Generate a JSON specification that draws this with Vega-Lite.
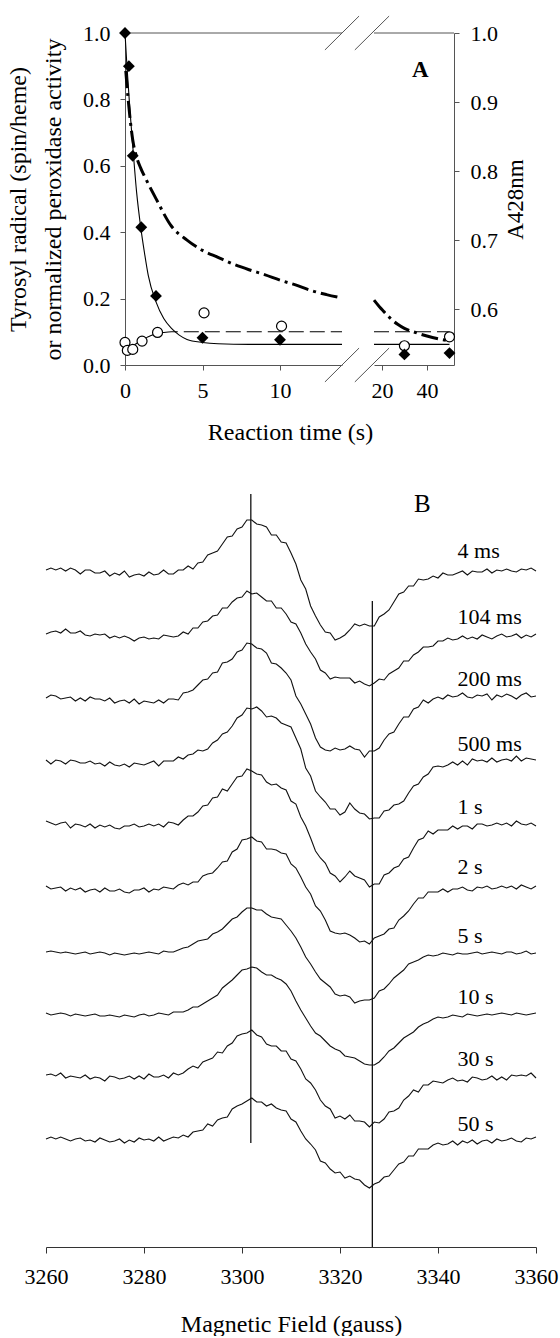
{
"$schema":"https://vega.github.io/schema/vega-lite/v6.json",
"background":"white",
"padding":{"left":6,"top":15,"right":5,"bottom":0},
"config":{"font":"Liberation Serif","view":{"stroke":null},
"axis":{"labelFont":"Liberation Serif","titleFont":"Liberation Serif","labelFontSize":22,"titleFontSize":24,"labelColor":"black","titleColor":"black","titleFontWeight":"normal","domainColor":"#555","tickColor":"#555","grid":false,"tickSize":5,"labelFlush":false,"labelOverlap":false,"labelBound":false},
"text":{"font":"Liberation Serif","color":"black"}},
"datasets":{
"diam":[{"t":0,"v":1.0},{"t":0.25,"v":0.9},{"t":0.5,"v":0.63},{"t":1.05,"v":0.415},{"t":2,"v":0.208},{"t":5,"v":0.082},{"t":10,"v":0.076},{"t":30,"v":0.032},{"t":50,"v":0.036}],
"circ":[{"t":0,"v":0.068},{"t":0.15,"v":0.044},{"t":0.5,"v":0.047},{"t":1.1,"v":0.072},{"t":2.1,"v":0.098},{"t":5.1,"v":0.157},{"t":10.1,"v":0.117},{"t":30,"v":0.058},{"t":50,"v":0.085}],
"fitS":[{"t":0,"v":1.0},{"t":0.1,"v":0.92},{"t":0.2,"v":0.85},{"t":0.3,"v":0.78},{"t":0.5,"v":0.66},{"t":0.75,"v":0.52},{"t":1,"v":0.42},{"t":1.25,"v":0.34},{"t":1.5,"v":0.27},{"t":2,"v":0.19},{"t":2.5,"v":0.14},{"t":3,"v":0.11},{"t":3.5,"v":0.09},{"t":4,"v":0.077},{"t":5,"v":0.068},{"t":6,"v":0.064},{"t":8,"v":0.062},{"t":14,"v":0.062},{"t":16.5,"v":0.062},{"t":50,"v":0.062}],
"fitD":[{"t":0,"v":0.045},{"t":0.5,"v":0.058},{"t":1,"v":0.072},{"t":1.5,"v":0.085},{"t":2,"v":0.094},{"t":2.5,"v":0.098},{"t":3,"v":0.1},{"t":14,"v":0.1},{"t":16.5,"v":0.1},{"t":50,"v":0.1}],
"a428":[{"t":0.05,"r":0.945},{"t":0.2,"r":0.905},{"t":0.5,"r":0.845},{"t":0.75,"r":0.82},{"t":1,"r":0.805},{"t":1.4,"r":0.786},{"t":2,"r":0.76},{"t":3,"r":0.72},{"t":4,"r":0.7},{"t":5,"r":0.685},{"t":6,"r":0.675},{"t":7,"r":0.665},{"t":8,"r":0.657},{"t":9,"r":0.65},{"t":10,"r":0.642},{"t":11,"r":0.635},{"t":12,"r":0.627},{"t":13,"r":0.621},{"t":14,"r":0.616},{"t":16.5,"r":0.613},{"t":19,"r":0.603},{"t":21,"r":0.596},{"t":23,"r":0.589},{"t":25,"r":0.583},{"t":27,"r":0.578},{"t":30,"r":0.572},{"t":35,"r":0.566},{"t":40,"r":0.561},{"t":45,"r":0.557},{"t":50,"r":0.554}],
"labels":[{"lab":"4 ms","f":3344,"v":20},{"lab":"104 ms","f":3344,"v":-46},{"lab":"200 ms","f":3344,"v":-108},{"lab":"500 ms","f":3344,"v":-173},{"lab":"1 s","f":3344,"v":-236},{"lab":"2 s","f":3344,"v":-296},{"lab":"5 s","f":3344,"v":-365},{"lab":"10 s","f":3344,"v":-426},{"lab":"30 s","f":3344,"v":-488},{"lab":"50 s","f":3344,"v":-553}],
"spectra":[
{"s":"4 ms","f":3260,"v":1},{"s":"4 ms","f":3261,"v":3},{"s":"4 ms","f":3262,"v":1},{"s":"4 ms","f":3263,"v":3},{"s":"4 ms","f":3264,"v":0},{"s":"4 ms","f":3265,"v":3},{"s":"4 ms","f":3266,"v":1},{"s":"4 ms","f":3267,"v":-3},{"s":"4 ms","f":3268,"v":1},{"s":"4 ms","f":3269,"v":1},{"s":"4 ms","f":3270,"v":-2},
{"s":"4 ms","f":3271,"v":-2},{"s":"4 ms","f":3272,"v":0},{"s":"4 ms","f":3273,"v":-5},{"s":"4 ms","f":3274,"v":-2},{"s":"4 ms","f":3275,"v":-4},{"s":"4 ms","f":3276,"v":0},{"s":"4 ms","f":3277,"v":-6},{"s":"4 ms","f":3278,"v":-4},{"s":"4 ms","f":3279,"v":-3},{"s":"4 ms","f":3280,"v":-5},{"s":"4 ms","f":3281,"v":-1},{"s":"4 ms","f":3282,"v":-4},{"s":"4 ms","f":3283,"v":-3},{"s":"4 ms","f":3284,"v":1},{"s":"4 ms","f":3285,"v":-3},{"s":"4 ms","f":3286,"v":-3},{"s":"4 ms","f":3287,"v":1},
{"s":"4 ms","f":3288,"v":1},{"s":"4 ms","f":3289,"v":5},{"s":"4 ms","f":3290,"v":2},{"s":"4 ms","f":3291,"v":8},{"s":"4 ms","f":3292,"v":9},{"s":"4 ms","f":3293,"v":16},{"s":"4 ms","f":3294,"v":18},{"s":"4 ms","f":3295,"v":20},{"s":"4 ms","f":3296,"v":27},{"s":"4 ms","f":3297,"v":34},{"s":"4 ms","f":3298,"v":35},{"s":"4 ms","f":3299,"v":42},{"s":"4 ms","f":3300,"v":44},{"s":"4 ms","f":3301,"v":51},{"s":"4 ms","f":3302,"v":51},{"s":"4 ms","f":3303,"v":47},{"s":"4 ms","f":3304,"v":46},{"s":"4 ms","f":3305,"v":44},{"s":"4 ms","f":3306,"v":36},{"s":"4 ms","f":3307,"v":36},
{"s":"4 ms","f":3308,"v":29},{"s":"4 ms","f":3309,"v":28},{"s":"4 ms","f":3310,"v":18},{"s":"4 ms","f":3311,"v":7},{"s":"4 ms","f":3312,"v":-9},{"s":"4 ms","f":3313,"v":-18},{"s":"4 ms","f":3314,"v":-35},{"s":"4 ms","f":3315,"v":-45},{"s":"4 ms","f":3316,"v":-54},{"s":"4 ms","f":3317,"v":-61},{"s":"4 ms","f":3318,"v":-62},{"s":"4 ms","f":3319,"v":-69},{"s":"4 ms","f":3320,"v":-67},{"s":"4 ms","f":3321,"v":-64},{"s":"4 ms","f":3322,"v":-59},{"s":"4 ms","f":3323,"v":-53},{"s":"4 ms","f":3324,"v":-55},{"s":"4 ms","f":3325,"v":-53},{"s":"4 ms","f":3326,"v":-55},{"s":"4 ms","f":3327,"v":-55},
{"s":"4 ms","f":3328,"v":-46},{"s":"4 ms","f":3329,"v":-43},{"s":"4 ms","f":3330,"v":-39},{"s":"4 ms","f":3331,"v":-31},{"s":"4 ms","f":3332,"v":-23},{"s":"4 ms","f":3333,"v":-21},{"s":"4 ms","f":3334,"v":-15},{"s":"4 ms","f":3335,"v":-15},{"s":"4 ms","f":3336,"v":-8},{"s":"4 ms","f":3337,"v":-9},{"s":"4 ms","f":3338,"v":-8},{"s":"4 ms","f":3339,"v":-5},{"s":"4 ms","f":3340,"v":-7},{"s":"4 ms","f":3341,"v":-2},{"s":"4 ms","f":3342,"v":-4},{"s":"4 ms","f":3343,"v":-4},{"s":"4 ms","f":3344,"v":-2},{"s":"4 ms","f":3345,"v":0},
{"s":"4 ms","f":3346,"v":-4},{"s":"4 ms","f":3347,"v":0},{"s":"4 ms","f":3348,"v":-1},{"s":"4 ms","f":3349,"v":-1},{"s":"4 ms","f":3350,"v":2},{"s":"4 ms","f":3351,"v":-2},{"s":"4 ms","f":3352,"v":1},{"s":"4 ms","f":3353,"v":0},{"s":"4 ms","f":3354,"v":2},{"s":"4 ms","f":3355,"v":0},{"s":"4 ms","f":3356,"v":-1},{"s":"4 ms","f":3357,"v":2},{"s":"4 ms","f":3358,"v":1},{"s":"4 ms","f":3359,"v":3},{"s":"4 ms","f":3360,"v":0},
{"s":"104 ms","f":3260,"v":-63},{"s":"104 ms","f":3261,"v":-61},{"s":"104 ms","f":3262,"v":-60},{"s":"104 ms","f":3263,"v":-62},{"s":"104 ms","f":3264,"v":-58},{"s":"104 ms","f":3265,"v":-62},{"s":"104 ms","f":3266,"v":-62},{"s":"104 ms","f":3267,"v":-60},{"s":"104 ms","f":3268,"v":-64},{"s":"104 ms","f":3269,"v":-65},{"s":"104 ms","f":3270,"v":-63},
{"s":"104 ms","f":3271,"v":-64},{"s":"104 ms","f":3272,"v":-63},{"s":"104 ms","f":3273,"v":-67},{"s":"104 ms","f":3274,"v":-65},{"s":"104 ms","f":3275,"v":-67},{"s":"104 ms","f":3276,"v":-65},{"s":"104 ms","f":3277,"v":-67},{"s":"104 ms","f":3278,"v":-70},{"s":"104 ms","f":3279,"v":-67},{"s":"104 ms","f":3280,"v":-66},{"s":"104 ms","f":3281,"v":-68},{"s":"104 ms","f":3282,"v":-67},{"s":"104 ms","f":3283,"v":-68},{"s":"104 ms","f":3284,"v":-64},{"s":"104 ms","f":3285,"v":-65},{"s":"104 ms","f":3286,"v":-66},{"s":"104 ms","f":3287,"v":-65},
{"s":"104 ms","f":3288,"v":-61},{"s":"104 ms","f":3289,"v":-63},{"s":"104 ms","f":3290,"v":-57},{"s":"104 ms","f":3291,"v":-57},{"s":"104 ms","f":3292,"v":-51},{"s":"104 ms","f":3293,"v":-50},{"s":"104 ms","f":3294,"v":-45},{"s":"104 ms","f":3295,"v":-44},{"s":"104 ms","f":3296,"v":-37},{"s":"104 ms","f":3297,"v":-37},{"s":"104 ms","f":3298,"v":-31},{"s":"104 ms","f":3299,"v":-27},{"s":"104 ms","f":3300,"v":-26},{"s":"104 ms","f":3301,"v":-20},{"s":"104 ms","f":3302,"v":-23},{"s":"104 ms","f":3303,"v":-22},{"s":"104 ms","f":3304,"v":-26},{"s":"104 ms","f":3305,"v":-30},{"s":"104 ms","f":3306,"v":-30},{"s":"104 ms","f":3307,"v":-37},
{"s":"104 ms","f":3308,"v":-37},{"s":"104 ms","f":3309,"v":-43},{"s":"104 ms","f":3310,"v":-51},{"s":"104 ms","f":3311,"v":-53},{"s":"104 ms","f":3312,"v":-62},{"s":"104 ms","f":3313,"v":-73},{"s":"104 ms","f":3314,"v":-81},{"s":"104 ms","f":3315,"v":-88},{"s":"104 ms","f":3316,"v":-99},{"s":"104 ms","f":3317,"v":-102},{"s":"104 ms","f":3318,"v":-108},{"s":"104 ms","f":3319,"v":-106},{"s":"104 ms","f":3320,"v":-107},{"s":"104 ms","f":3321,"v":-107},{"s":"104 ms","f":3322,"v":-107},{"s":"104 ms","f":3323,"v":-112},{"s":"104 ms","f":3324,"v":-110},{"s":"104 ms","f":3325,"v":-113},{"s":"104 ms","f":3326,"v":-115},{"s":"104 ms","f":3327,"v":-112},
{"s":"104 ms","f":3328,"v":-108},{"s":"104 ms","f":3329,"v":-109},{"s":"104 ms","f":3330,"v":-103},{"s":"104 ms","f":3331,"v":-100},{"s":"104 ms","f":3332,"v":-97},{"s":"104 ms","f":3333,"v":-90},{"s":"104 ms","f":3334,"v":-90},{"s":"104 ms","f":3335,"v":-84},{"s":"104 ms","f":3336,"v":-81},{"s":"104 ms","f":3337,"v":-76},{"s":"104 ms","f":3338,"v":-76},{"s":"104 ms","f":3339,"v":-75},{"s":"104 ms","f":3340,"v":-70},{"s":"104 ms","f":3341,"v":-70},{"s":"104 ms","f":3342,"v":-67},{"s":"104 ms","f":3343,"v":-69},{"s":"104 ms","f":3344,"v":-68},{"s":"104 ms","f":3345,"v":-65},
{"s":"104 ms","f":3346,"v":-68},{"s":"104 ms","f":3347,"v":-66},{"s":"104 ms","f":3348,"v":-68},{"s":"104 ms","f":3349,"v":-64},{"s":"104 ms","f":3350,"v":-66},{"s":"104 ms","f":3351,"v":-68},{"s":"104 ms","f":3352,"v":-65},{"s":"104 ms","f":3353,"v":-63},{"s":"104 ms","f":3354,"v":-66},{"s":"104 ms","f":3355,"v":-65},{"s":"104 ms","f":3356,"v":-63},{"s":"104 ms","f":3357,"v":-67},{"s":"104 ms","f":3358,"v":-64},{"s":"104 ms","f":3359,"v":-66},{"s":"104 ms","f":3360,"v":-63},
{"s":"200 ms","f":3260,"v":-127},{"s":"200 ms","f":3261,"v":-124},{"s":"200 ms","f":3262,"v":-125},{"s":"200 ms","f":3263,"v":-128},{"s":"200 ms","f":3264,"v":-127},{"s":"200 ms","f":3265,"v":-126},{"s":"200 ms","f":3266,"v":-130},{"s":"200 ms","f":3267,"v":-127},{"s":"200 ms","f":3268,"v":-130},{"s":"200 ms","f":3269,"v":-126},{"s":"200 ms","f":3270,"v":-128},
{"s":"200 ms","f":3271,"v":-128},{"s":"200 ms","f":3272,"v":-130},{"s":"200 ms","f":3273,"v":-127},{"s":"200 ms","f":3274,"v":-132},{"s":"200 ms","f":3275,"v":-130},{"s":"200 ms","f":3276,"v":-129},{"s":"200 ms","f":3277,"v":-132},{"s":"200 ms","f":3278,"v":-128},{"s":"200 ms","f":3279,"v":-133},{"s":"200 ms","f":3280,"v":-130},{"s":"200 ms","f":3281,"v":-131},{"s":"200 ms","f":3282,"v":-132},{"s":"200 ms","f":3283,"v":-129},{"s":"200 ms","f":3284,"v":-132},{"s":"200 ms","f":3285,"v":-128},{"s":"200 ms","f":3286,"v":-128},{"s":"200 ms","f":3287,"v":-129},
{"s":"200 ms","f":3288,"v":-122},{"s":"200 ms","f":3289,"v":-121},{"s":"200 ms","f":3290,"v":-119},{"s":"200 ms","f":3291,"v":-114},{"s":"200 ms","f":3292,"v":-109},{"s":"200 ms","f":3293,"v":-108},{"s":"200 ms","f":3294,"v":-102},{"s":"200 ms","f":3295,"v":-101},{"s":"200 ms","f":3296,"v":-92},{"s":"200 ms","f":3297,"v":-91},{"s":"200 ms","f":3298,"v":-88},{"s":"200 ms","f":3299,"v":-81},{"s":"200 ms","f":3300,"v":-79},{"s":"200 ms","f":3301,"v":-72},{"s":"200 ms","f":3302,"v":-73},{"s":"200 ms","f":3303,"v":-77},{"s":"200 ms","f":3304,"v":-78},{"s":"200 ms","f":3305,"v":-82},{"s":"200 ms","f":3306,"v":-92},{"s":"200 ms","f":3307,"v":-93},
{"s":"200 ms","f":3308,"v":-97},{"s":"200 ms","f":3309,"v":-102},{"s":"200 ms","f":3310,"v":-109},{"s":"200 ms","f":3311,"v":-125},{"s":"200 ms","f":3312,"v":-133},{"s":"200 ms","f":3313,"v":-143},{"s":"200 ms","f":3314,"v":-153},{"s":"200 ms","f":3315,"v":-167},{"s":"200 ms","f":3316,"v":-176},{"s":"200 ms","f":3317,"v":-179},{"s":"200 ms","f":3318,"v":-180},{"s":"200 ms","f":3319,"v":-177},{"s":"200 ms","f":3320,"v":-179},{"s":"200 ms","f":3321,"v":-178},{"s":"200 ms","f":3322,"v":-175},{"s":"200 ms","f":3323,"v":-178},{"s":"200 ms","f":3324,"v":-179},{"s":"200 ms","f":3325,"v":-186},{"s":"200 ms","f":3326,"v":-180},{"s":"200 ms","f":3327,"v":-180},
{"s":"200 ms","f":3328,"v":-177},{"s":"200 ms","f":3329,"v":-169},{"s":"200 ms","f":3330,"v":-163},{"s":"200 ms","f":3331,"v":-161},{"s":"200 ms","f":3332,"v":-153},{"s":"200 ms","f":3333,"v":-146},{"s":"200 ms","f":3334,"v":-146},{"s":"200 ms","f":3335,"v":-138},{"s":"200 ms","f":3336,"v":-136},{"s":"200 ms","f":3337,"v":-129},{"s":"200 ms","f":3338,"v":-132},{"s":"200 ms","f":3339,"v":-128},{"s":"200 ms","f":3340,"v":-126},{"s":"200 ms","f":3341,"v":-128},{"s":"200 ms","f":3342,"v":-124},{"s":"200 ms","f":3343,"v":-126},{"s":"200 ms","f":3344,"v":-125},{"s":"200 ms","f":3345,"v":-122},
{"s":"200 ms","f":3346,"v":-126},{"s":"200 ms","f":3347,"v":-127},{"s":"200 ms","f":3348,"v":-124},{"s":"200 ms","f":3349,"v":-125},{"s":"200 ms","f":3350,"v":-123},{"s":"200 ms","f":3351,"v":-129},{"s":"200 ms","f":3352,"v":-124},{"s":"200 ms","f":3353,"v":-126},{"s":"200 ms","f":3354,"v":-123},{"s":"200 ms","f":3355,"v":-125},{"s":"200 ms","f":3356,"v":-128},{"s":"200 ms","f":3357,"v":-124},{"s":"200 ms","f":3358,"v":-122},{"s":"200 ms","f":3359,"v":-126},{"s":"200 ms","f":3360,"v":-125},
{"s":"500 ms","f":3260,"v":-189},{"s":"500 ms","f":3261,"v":-193},{"s":"500 ms","f":3262,"v":-189},{"s":"500 ms","f":3263,"v":-190},{"s":"500 ms","f":3264,"v":-193},{"s":"500 ms","f":3265,"v":-189},{"s":"500 ms","f":3266,"v":-190},{"s":"500 ms","f":3267,"v":-192},{"s":"500 ms","f":3268,"v":-192},{"s":"500 ms","f":3269,"v":-190},{"s":"500 ms","f":3270,"v":-193},
{"s":"500 ms","f":3271,"v":-192},{"s":"500 ms","f":3272,"v":-195},{"s":"500 ms","f":3273,"v":-191},{"s":"500 ms","f":3274,"v":-194},{"s":"500 ms","f":3275,"v":-195},{"s":"500 ms","f":3276,"v":-193},{"s":"500 ms","f":3277,"v":-196},{"s":"500 ms","f":3278,"v":-192},{"s":"500 ms","f":3279,"v":-193},{"s":"500 ms","f":3280,"v":-194},{"s":"500 ms","f":3281,"v":-192},{"s":"500 ms","f":3282,"v":-190},{"s":"500 ms","f":3283,"v":-195},{"s":"500 ms","f":3284,"v":-190},{"s":"500 ms","f":3285,"v":-190},{"s":"500 ms","f":3286,"v":-190},{"s":"500 ms","f":3287,"v":-186},
{"s":"500 ms","f":3288,"v":-188},{"s":"500 ms","f":3289,"v":-184},{"s":"500 ms","f":3290,"v":-183},{"s":"500 ms","f":3291,"v":-179},{"s":"500 ms","f":3292,"v":-180},{"s":"500 ms","f":3293,"v":-178},{"s":"500 ms","f":3294,"v":-172},{"s":"500 ms","f":3295,"v":-169},{"s":"500 ms","f":3296,"v":-163},{"s":"500 ms","f":3297,"v":-161},{"s":"500 ms","f":3298,"v":-155},{"s":"500 ms","f":3299,"v":-147},{"s":"500 ms","f":3300,"v":-144},{"s":"500 ms","f":3301,"v":-137},{"s":"500 ms","f":3302,"v":-138},{"s":"500 ms","f":3303,"v":-136},{"s":"500 ms","f":3304,"v":-140},{"s":"500 ms","f":3305,"v":-146},{"s":"500 ms","f":3306,"v":-145},{"s":"500 ms","f":3307,"v":-147},
{"s":"500 ms","f":3308,"v":-152},{"s":"500 ms","f":3309,"v":-154},{"s":"500 ms","f":3310,"v":-156},{"s":"500 ms","f":3311,"v":-167},{"s":"500 ms","f":3312,"v":-178},{"s":"500 ms","f":3313,"v":-197},{"s":"500 ms","f":3314,"v":-205},{"s":"500 ms","f":3315,"v":-220},{"s":"500 ms","f":3316,"v":-226},{"s":"500 ms","f":3317,"v":-231},{"s":"500 ms","f":3318,"v":-238},{"s":"500 ms","f":3319,"v":-238},{"s":"500 ms","f":3320,"v":-244},{"s":"500 ms","f":3321,"v":-241},{"s":"500 ms","f":3322,"v":-232},{"s":"500 ms","f":3323,"v":-238},{"s":"500 ms","f":3324,"v":-242},{"s":"500 ms","f":3325,"v":-243},{"s":"500 ms","f":3326,"v":-248},{"s":"500 ms","f":3327,"v":-247},
{"s":"500 ms","f":3328,"v":-247},{"s":"500 ms","f":3329,"v":-240},{"s":"500 ms","f":3330,"v":-239},{"s":"500 ms","f":3331,"v":-234},{"s":"500 ms","f":3332,"v":-233},{"s":"500 ms","f":3333,"v":-230},{"s":"500 ms","f":3334,"v":-222},{"s":"500 ms","f":3335,"v":-215},{"s":"500 ms","f":3336,"v":-213},{"s":"500 ms","f":3337,"v":-206},{"s":"500 ms","f":3338,"v":-203},{"s":"500 ms","f":3339,"v":-196},{"s":"500 ms","f":3340,"v":-195},{"s":"500 ms","f":3341,"v":-196},{"s":"500 ms","f":3342,"v":-194},{"s":"500 ms","f":3343,"v":-191},{"s":"500 ms","f":3344,"v":-194},{"s":"500 ms","f":3345,"v":-190},
{"s":"500 ms","f":3346,"v":-194},{"s":"500 ms","f":3347,"v":-188},{"s":"500 ms","f":3348,"v":-190},{"s":"500 ms","f":3349,"v":-189},{"s":"500 ms","f":3350,"v":-191},{"s":"500 ms","f":3351,"v":-187},{"s":"500 ms","f":3352,"v":-191},{"s":"500 ms","f":3353,"v":-189},{"s":"500 ms","f":3354,"v":-188},{"s":"500 ms","f":3355,"v":-190},{"s":"500 ms","f":3356,"v":-185},{"s":"500 ms","f":3357,"v":-190},{"s":"500 ms","f":3358,"v":-187},{"s":"500 ms","f":3359,"v":-188},{"s":"500 ms","f":3360,"v":-189},
{"s":"1 s","f":3260,"v":-250},{"s":"1 s","f":3261,"v":-252},{"s":"1 s","f":3262,"v":-254},{"s":"1 s","f":3263,"v":-252},{"s":"1 s","f":3264,"v":-251},{"s":"1 s","f":3265,"v":-257},{"s":"1 s","f":3266,"v":-253},{"s":"1 s","f":3267,"v":-254},{"s":"1 s","f":3268,"v":-256},{"s":"1 s","f":3269,"v":-253},{"s":"1 s","f":3270,"v":-257},
{"s":"1 s","f":3271,"v":-254},{"s":"1 s","f":3272,"v":-256},{"s":"1 s","f":3273,"v":-254},{"s":"1 s","f":3274,"v":-257},{"s":"1 s","f":3275,"v":-258},{"s":"1 s","f":3276,"v":-255},{"s":"1 s","f":3277,"v":-255},{"s":"1 s","f":3278,"v":-253},{"s":"1 s","f":3279,"v":-256},{"s":"1 s","f":3280,"v":-255},{"s":"1 s","f":3281,"v":-253},{"s":"1 s","f":3282,"v":-255},{"s":"1 s","f":3283,"v":-253},{"s":"1 s","f":3284,"v":-256},{"s":"1 s","f":3285,"v":-251},{"s":"1 s","f":3286,"v":-252},{"s":"1 s","f":3287,"v":-254},
{"s":"1 s","f":3288,"v":-249},{"s":"1 s","f":3289,"v":-245},{"s":"1 s","f":3290,"v":-245},{"s":"1 s","f":3291,"v":-241},{"s":"1 s","f":3292,"v":-235},{"s":"1 s","f":3293,"v":-234},{"s":"1 s","f":3294,"v":-227},{"s":"1 s","f":3295,"v":-226},{"s":"1 s","f":3296,"v":-218},{"s":"1 s","f":3297,"v":-220},{"s":"1 s","f":3298,"v":-213},{"s":"1 s","f":3299,"v":-206},{"s":"1 s","f":3300,"v":-205},{"s":"1 s","f":3301,"v":-198},{"s":"1 s","f":3302,"v":-200},{"s":"1 s","f":3303,"v":-203},{"s":"1 s","f":3304,"v":-204},{"s":"1 s","f":3305,"v":-211},{"s":"1 s","f":3306,"v":-214},{"s":"1 s","f":3307,"v":-213},
{"s":"1 s","f":3308,"v":-217},{"s":"1 s","f":3309,"v":-219},{"s":"1 s","f":3310,"v":-230},{"s":"1 s","f":3311,"v":-233},{"s":"1 s","f":3312,"v":-246},{"s":"1 s","f":3313,"v":-255},{"s":"1 s","f":3314,"v":-267},{"s":"1 s","f":3315,"v":-280},{"s":"1 s","f":3316,"v":-287},{"s":"1 s","f":3317,"v":-292},{"s":"1 s","f":3318,"v":-302},{"s":"1 s","f":3319,"v":-305},{"s":"1 s","f":3320,"v":-311},{"s":"1 s","f":3321,"v":-306},{"s":"1 s","f":3322,"v":-300},{"s":"1 s","f":3323,"v":-305},{"s":"1 s","f":3324,"v":-307},{"s":"1 s","f":3325,"v":-309},{"s":"1 s","f":3326,"v":-316},{"s":"1 s","f":3327,"v":-313},
{"s":"1 s","f":3328,"v":-313},{"s":"1 s","f":3329,"v":-304},{"s":"1 s","f":3330,"v":-302},{"s":"1 s","f":3331,"v":-297},{"s":"1 s","f":3332,"v":-295},{"s":"1 s","f":3333,"v":-288},{"s":"1 s","f":3334,"v":-286},{"s":"1 s","f":3335,"v":-277},{"s":"1 s","f":3336,"v":-269},{"s":"1 s","f":3337,"v":-267},{"s":"1 s","f":3338,"v":-260},{"s":"1 s","f":3339,"v":-263},{"s":"1 s","f":3340,"v":-259},{"s":"1 s","f":3341,"v":-259},{"s":"1 s","f":3342,"v":-259},{"s":"1 s","f":3343,"v":-255},{"s":"1 s","f":3344,"v":-258},{"s":"1 s","f":3345,"v":-255},
{"s":"1 s","f":3346,"v":-255},{"s":"1 s","f":3347,"v":-258},{"s":"1 s","f":3348,"v":-253},{"s":"1 s","f":3349,"v":-253},{"s":"1 s","f":3350,"v":-255},{"s":"1 s","f":3351,"v":-254},{"s":"1 s","f":3352,"v":-252},{"s":"1 s","f":3353,"v":-254},{"s":"1 s","f":3354,"v":-252},{"s":"1 s","f":3355,"v":-255},{"s":"1 s","f":3356,"v":-250},{"s":"1 s","f":3357,"v":-253},{"s":"1 s","f":3358,"v":-254},{"s":"1 s","f":3359,"v":-252},{"s":"1 s","f":3360,"v":-255},
{"s":"2 s","f":3260,"v":-315},{"s":"2 s","f":3261,"v":-318},{"s":"2 s","f":3262,"v":-317},{"s":"2 s","f":3263,"v":-316},{"s":"2 s","f":3264,"v":-320},{"s":"2 s","f":3265,"v":-317},{"s":"2 s","f":3266,"v":-319},{"s":"2 s","f":3267,"v":-317},{"s":"2 s","f":3268,"v":-321},{"s":"2 s","f":3269,"v":-319},{"s":"2 s","f":3270,"v":-318},
{"s":"2 s","f":3271,"v":-321},{"s":"2 s","f":3272,"v":-317},{"s":"2 s","f":3273,"v":-320},{"s":"2 s","f":3274,"v":-320},{"s":"2 s","f":3275,"v":-318},{"s":"2 s","f":3276,"v":-321},{"s":"2 s","f":3277,"v":-322},{"s":"2 s","f":3278,"v":-319},{"s":"2 s","f":3279,"v":-319},{"s":"2 s","f":3280,"v":-317},{"s":"2 s","f":3281,"v":-321},{"s":"2 s","f":3282,"v":-318},{"s":"2 s","f":3283,"v":-319},{"s":"2 s","f":3284,"v":-316},{"s":"2 s","f":3285,"v":-317},{"s":"2 s","f":3286,"v":-318},{"s":"2 s","f":3287,"v":-314},
{"s":"2 s","f":3288,"v":-312},{"s":"2 s","f":3289,"v":-314},{"s":"2 s","f":3290,"v":-311},{"s":"2 s","f":3291,"v":-311},{"s":"2 s","f":3292,"v":-305},{"s":"2 s","f":3293,"v":-303},{"s":"2 s","f":3294,"v":-302},{"s":"2 s","f":3295,"v":-297},{"s":"2 s","f":3296,"v":-291},{"s":"2 s","f":3297,"v":-290},{"s":"2 s","f":3298,"v":-281},{"s":"2 s","f":3299,"v":-278},{"s":"2 s","f":3300,"v":-269},{"s":"2 s","f":3301,"v":-268},{"s":"2 s","f":3302,"v":-266},{"s":"2 s","f":3303,"v":-270},{"s":"2 s","f":3304,"v":-271},{"s":"2 s","f":3305,"v":-278},{"s":"2 s","f":3306,"v":-278},{"s":"2 s","f":3307,"v":-279},
{"s":"2 s","f":3308,"v":-282},{"s":"2 s","f":3309,"v":-283},{"s":"2 s","f":3310,"v":-293},{"s":"2 s","f":3311,"v":-297},{"s":"2 s","f":3312,"v":-306},{"s":"2 s","f":3313,"v":-316},{"s":"2 s","f":3314,"v":-323},{"s":"2 s","f":3315,"v":-335},{"s":"2 s","f":3316,"v":-340},{"s":"2 s","f":3317,"v":-349},{"s":"2 s","f":3318,"v":-360},{"s":"2 s","f":3319,"v":-362},{"s":"2 s","f":3320,"v":-363},{"s":"2 s","f":3321,"v":-362},{"s":"2 s","f":3322,"v":-364},{"s":"2 s","f":3323,"v":-367},{"s":"2 s","f":3324,"v":-371},{"s":"2 s","f":3325,"v":-370},{"s":"2 s","f":3326,"v":-373},{"s":"2 s","f":3327,"v":-367},
{"s":"2 s","f":3328,"v":-365},{"s":"2 s","f":3329,"v":-363},{"s":"2 s","f":3330,"v":-358},{"s":"2 s","f":3331,"v":-357},{"s":"2 s","f":3332,"v":-349},{"s":"2 s","f":3333,"v":-345},{"s":"2 s","f":3334,"v":-340},{"s":"2 s","f":3335,"v":-333},{"s":"2 s","f":3336,"v":-327},{"s":"2 s","f":3337,"v":-327},{"s":"2 s","f":3338,"v":-321},{"s":"2 s","f":3339,"v":-321},{"s":"2 s","f":3340,"v":-321},{"s":"2 s","f":3341,"v":-318},{"s":"2 s","f":3342,"v":-321},{"s":"2 s","f":3343,"v":-318},{"s":"2 s","f":3344,"v":-318},{"s":"2 s","f":3345,"v":-316},
{"s":"2 s","f":3346,"v":-319},{"s":"2 s","f":3347,"v":-320},{"s":"2 s","f":3348,"v":-316},{"s":"2 s","f":3349,"v":-317},{"s":"2 s","f":3350,"v":-315},{"s":"2 s","f":3351,"v":-318},{"s":"2 s","f":3352,"v":-317},{"s":"2 s","f":3353,"v":-315},{"s":"2 s","f":3354,"v":-317},{"s":"2 s","f":3355,"v":-315},{"s":"2 s","f":3356,"v":-318},{"s":"2 s","f":3357,"v":-314},{"s":"2 s","f":3358,"v":-316},{"s":"2 s","f":3359,"v":-318},{"s":"2 s","f":3360,"v":-315},
{"s":"5 s","f":3260,"v":-381},{"s":"5 s","f":3261,"v":-380},{"s":"5 s","f":3262,"v":-381},{"s":"5 s","f":3263,"v":-382},{"s":"5 s","f":3264,"v":-381},{"s":"5 s","f":3265,"v":-382},{"s":"5 s","f":3266,"v":-383},{"s":"5 s","f":3267,"v":-382},{"s":"5 s","f":3268,"v":-381},{"s":"5 s","f":3269,"v":-383},{"s":"5 s","f":3270,"v":-382},
{"s":"5 s","f":3271,"v":-381},{"s":"5 s","f":3272,"v":-382},{"s":"5 s","f":3273,"v":-384},{"s":"5 s","f":3274,"v":-382},{"s":"5 s","f":3275,"v":-383},{"s":"5 s","f":3276,"v":-384},{"s":"5 s","f":3277,"v":-383},{"s":"5 s","f":3278,"v":-382},{"s":"5 s","f":3279,"v":-383},{"s":"5 s","f":3280,"v":-382},{"s":"5 s","f":3281,"v":-381},{"s":"5 s","f":3282,"v":-382},{"s":"5 s","f":3283,"v":-383},{"s":"5 s","f":3284,"v":-380},{"s":"5 s","f":3285,"v":-381},{"s":"5 s","f":3286,"v":-381},{"s":"5 s","f":3287,"v":-379},
{"s":"5 s","f":3288,"v":-377},{"s":"5 s","f":3289,"v":-376},{"s":"5 s","f":3290,"v":-373},{"s":"5 s","f":3291,"v":-370},{"s":"5 s","f":3292,"v":-369},{"s":"5 s","f":3293,"v":-368},{"s":"5 s","f":3294,"v":-363},{"s":"5 s","f":3295,"v":-361},{"s":"5 s","f":3296,"v":-358},{"s":"5 s","f":3297,"v":-353},{"s":"5 s","f":3298,"v":-348},{"s":"5 s","f":3299,"v":-346},{"s":"5 s","f":3300,"v":-341},{"s":"5 s","f":3301,"v":-337},{"s":"5 s","f":3302,"v":-337},{"s":"5 s","f":3303,"v":-339},{"s":"5 s","f":3304,"v":-339},{"s":"5 s","f":3305,"v":-343},{"s":"5 s","f":3306,"v":-346},{"s":"5 s","f":3307,"v":-347},
{"s":"5 s","f":3308,"v":-348},{"s":"5 s","f":3309,"v":-354},{"s":"5 s","f":3310,"v":-360},{"s":"5 s","f":3311,"v":-367},{"s":"5 s","f":3312,"v":-376},{"s":"5 s","f":3313,"v":-386},{"s":"5 s","f":3314,"v":-393},{"s":"5 s","f":3315,"v":-401},{"s":"5 s","f":3316,"v":-408},{"s":"5 s","f":3317,"v":-412},{"s":"5 s","f":3318,"v":-416},{"s":"5 s","f":3319,"v":-423},{"s":"5 s","f":3320,"v":-425},{"s":"5 s","f":3321,"v":-424},{"s":"5 s","f":3322,"v":-426},{"s":"5 s","f":3323,"v":-432},{"s":"5 s","f":3324,"v":-430},{"s":"5 s","f":3325,"v":-429},{"s":"5 s","f":3326,"v":-429},{"s":"5 s","f":3327,"v":-427},
{"s":"5 s","f":3328,"v":-420},{"s":"5 s","f":3329,"v":-418},{"s":"5 s","f":3330,"v":-413},{"s":"5 s","f":3331,"v":-407},{"s":"5 s","f":3332,"v":-403},{"s":"5 s","f":3333,"v":-399},{"s":"5 s","f":3334,"v":-393},{"s":"5 s","f":3335,"v":-391},{"s":"5 s","f":3336,"v":-389},{"s":"5 s","f":3337,"v":-386},{"s":"5 s","f":3338,"v":-384},{"s":"5 s","f":3339,"v":-385},{"s":"5 s","f":3340,"v":-384},{"s":"5 s","f":3341,"v":-382},{"s":"5 s","f":3342,"v":-383},{"s":"5 s","f":3343,"v":-384},{"s":"5 s","f":3344,"v":-382},{"s":"5 s","f":3345,"v":-383},
{"s":"5 s","f":3346,"v":-383},{"s":"5 s","f":3347,"v":-382},{"s":"5 s","f":3348,"v":-381},{"s":"5 s","f":3349,"v":-383},{"s":"5 s","f":3350,"v":-382},{"s":"5 s","f":3351,"v":-381},{"s":"5 s","f":3352,"v":-382},{"s":"5 s","f":3353,"v":-383},{"s":"5 s","f":3354,"v":-381},{"s":"5 s","f":3355,"v":-381},{"s":"5 s","f":3356,"v":-383},{"s":"5 s","f":3357,"v":-382},{"s":"5 s","f":3358,"v":-380},{"s":"5 s","f":3359,"v":-383},{"s":"5 s","f":3360,"v":-382},
{"s":"10 s","f":3260,"v":-442},{"s":"10 s","f":3261,"v":-444},{"s":"10 s","f":3262,"v":-443},{"s":"10 s","f":3263,"v":-442},{"s":"10 s","f":3264,"v":-443},{"s":"10 s","f":3265,"v":-445},{"s":"10 s","f":3266,"v":-443},{"s":"10 s","f":3267,"v":-444},{"s":"10 s","f":3268,"v":-445},{"s":"10 s","f":3269,"v":-444},{"s":"10 s","f":3270,"v":-443},
{"s":"10 s","f":3271,"v":-445},{"s":"10 s","f":3272,"v":-445},{"s":"10 s","f":3273,"v":-444},{"s":"10 s","f":3274,"v":-445},{"s":"10 s","f":3275,"v":-446},{"s":"10 s","f":3276,"v":-444},{"s":"10 s","f":3277,"v":-445},{"s":"10 s","f":3278,"v":-446},{"s":"10 s","f":3279,"v":-444},{"s":"10 s","f":3280,"v":-443},{"s":"10 s","f":3281,"v":-445},{"s":"10 s","f":3282,"v":-444},{"s":"10 s","f":3283,"v":-442},{"s":"10 s","f":3284,"v":-443},{"s":"10 s","f":3285,"v":-444},{"s":"10 s","f":3286,"v":-441},{"s":"10 s","f":3287,"v":-441},
{"s":"10 s","f":3288,"v":-441},{"s":"10 s","f":3289,"v":-439},{"s":"10 s","f":3290,"v":-436},{"s":"10 s","f":3291,"v":-436},{"s":"10 s","f":3292,"v":-433},{"s":"10 s","f":3293,"v":-430},{"s":"10 s","f":3294,"v":-427},{"s":"10 s","f":3295,"v":-424},{"s":"10 s","f":3296,"v":-417},{"s":"10 s","f":3297,"v":-413},{"s":"10 s","f":3298,"v":-409},{"s":"10 s","f":3299,"v":-404},{"s":"10 s","f":3300,"v":-399},{"s":"10 s","f":3301,"v":-398},{"s":"10 s","f":3302,"v":-396},{"s":"10 s","f":3303,"v":-397},{"s":"10 s","f":3304,"v":-401},{"s":"10 s","f":3305,"v":-404},{"s":"10 s","f":3306,"v":-404},{"s":"10 s","f":3307,"v":-407},
{"s":"10 s","f":3308,"v":-409},{"s":"10 s","f":3309,"v":-413},{"s":"10 s","f":3310,"v":-420},{"s":"10 s","f":3311,"v":-430},{"s":"10 s","f":3312,"v":-439},{"s":"10 s","f":3313,"v":-447},{"s":"10 s","f":3314,"v":-455},{"s":"10 s","f":3315,"v":-462},{"s":"10 s","f":3316,"v":-465},{"s":"10 s","f":3317,"v":-470},{"s":"10 s","f":3318,"v":-475},{"s":"10 s","f":3319,"v":-478},{"s":"10 s","f":3320,"v":-480},{"s":"10 s","f":3321,"v":-485},{"s":"10 s","f":3322,"v":-486},{"s":"10 s","f":3323,"v":-487},{"s":"10 s","f":3324,"v":-490},{"s":"10 s","f":3325,"v":-493},{"s":"10 s","f":3326,"v":-494},{"s":"10 s","f":3327,"v":-494},
{"s":"10 s","f":3328,"v":-491},{"s":"10 s","f":3329,"v":-486},{"s":"10 s","f":3330,"v":-480},{"s":"10 s","f":3331,"v":-477},{"s":"10 s","f":3332,"v":-472},{"s":"10 s","f":3333,"v":-467},{"s":"10 s","f":3334,"v":-464},{"s":"10 s","f":3335,"v":-461},{"s":"10 s","f":3336,"v":-456},{"s":"10 s","f":3337,"v":-453},{"s":"10 s","f":3338,"v":-451},{"s":"10 s","f":3339,"v":-448},{"s":"10 s","f":3340,"v":-446},{"s":"10 s","f":3341,"v":-447},{"s":"10 s","f":3342,"v":-446},{"s":"10 s","f":3343,"v":-444},{"s":"10 s","f":3344,"v":-445},{"s":"10 s","f":3345,"v":-446},
{"s":"10 s","f":3346,"v":-443},{"s":"10 s","f":3347,"v":-444},{"s":"10 s","f":3348,"v":-445},{"s":"10 s","f":3349,"v":-444},{"s":"10 s","f":3350,"v":-443},{"s":"10 s","f":3351,"v":-444},{"s":"10 s","f":3352,"v":-443},{"s":"10 s","f":3353,"v":-442},{"s":"10 s","f":3354,"v":-443},{"s":"10 s","f":3355,"v":-444},{"s":"10 s","f":3356,"v":-442},{"s":"10 s","f":3357,"v":-443},{"s":"10 s","f":3358,"v":-444},{"s":"10 s","f":3359,"v":-443},{"s":"10 s","f":3360,"v":-442},
{"s":"30 s","f":3260,"v":-504},{"s":"30 s","f":3261,"v":-503},{"s":"30 s","f":3262,"v":-505},{"s":"30 s","f":3263,"v":-502},{"s":"30 s","f":3264,"v":-507},{"s":"30 s","f":3265,"v":-505},{"s":"30 s","f":3266,"v":-506},{"s":"30 s","f":3267,"v":-507},{"s":"30 s","f":3268,"v":-504},{"s":"30 s","f":3269,"v":-508},{"s":"30 s","f":3270,"v":-506},
{"s":"30 s","f":3271,"v":-507},{"s":"30 s","f":3272,"v":-510},{"s":"30 s","f":3273,"v":-505},{"s":"30 s","f":3274,"v":-506},{"s":"30 s","f":3275,"v":-508},{"s":"30 s","f":3276,"v":-507},{"s":"30 s","f":3277,"v":-505},{"s":"30 s","f":3278,"v":-508},{"s":"30 s","f":3279,"v":-505},{"s":"30 s","f":3280,"v":-508},{"s":"30 s","f":3281,"v":-503},{"s":"30 s","f":3282,"v":-506},{"s":"30 s","f":3283,"v":-506},{"s":"30 s","f":3284,"v":-504},{"s":"30 s","f":3285,"v":-507},{"s":"30 s","f":3286,"v":-502},{"s":"30 s","f":3287,"v":-504},
{"s":"30 s","f":3288,"v":-502},{"s":"30 s","f":3289,"v":-498},{"s":"30 s","f":3290,"v":-495},{"s":"30 s","f":3291,"v":-497},{"s":"30 s","f":3292,"v":-491},{"s":"30 s","f":3293,"v":-489},{"s":"30 s","f":3294,"v":-487},{"s":"30 s","f":3295,"v":-481},{"s":"30 s","f":3296,"v":-482},{"s":"30 s","f":3297,"v":-475},{"s":"30 s","f":3298,"v":-472},{"s":"30 s","f":3299,"v":-465},{"s":"30 s","f":3300,"v":-463},{"s":"30 s","f":3301,"v":-462},{"s":"30 s","f":3302,"v":-459},{"s":"30 s","f":3303,"v":-464},{"s":"30 s","f":3304,"v":-466},{"s":"30 s","f":3305,"v":-473},{"s":"30 s","f":3306,"v":-475},{"s":"30 s","f":3307,"v":-475},
{"s":"30 s","f":3308,"v":-480},{"s":"30 s","f":3309,"v":-480},{"s":"30 s","f":3310,"v":-488},{"s":"30 s","f":3311,"v":-490},{"s":"30 s","f":3312,"v":-498},{"s":"30 s","f":3313,"v":-508},{"s":"30 s","f":3314,"v":-512},{"s":"30 s","f":3315,"v":-519},{"s":"30 s","f":3316,"v":-529},{"s":"30 s","f":3317,"v":-535},{"s":"30 s","f":3318,"v":-538},{"s":"30 s","f":3319,"v":-547},{"s":"30 s","f":3320,"v":-545},{"s":"30 s","f":3321,"v":-548},{"s":"30 s","f":3322,"v":-544},{"s":"30 s","f":3323,"v":-550},{"s":"30 s","f":3324,"v":-550},{"s":"30 s","f":3325,"v":-551},{"s":"30 s","f":3326,"v":-556},{"s":"30 s","f":3327,"v":-551},
{"s":"30 s","f":3328,"v":-552},{"s":"30 s","f":3329,"v":-548},{"s":"30 s","f":3330,"v":-541},{"s":"30 s","f":3331,"v":-540},{"s":"30 s","f":3332,"v":-537},{"s":"30 s","f":3333,"v":-529},{"s":"30 s","f":3334,"v":-525},{"s":"30 s","f":3335,"v":-519},{"s":"30 s","f":3336,"v":-521},{"s":"30 s","f":3337,"v":-514},{"s":"30 s","f":3338,"v":-514},{"s":"30 s","f":3339,"v":-510},{"s":"30 s","f":3340,"v":-511},{"s":"30 s","f":3341,"v":-512},{"s":"30 s","f":3342,"v":-509},{"s":"30 s","f":3343,"v":-507},{"s":"30 s","f":3344,"v":-510},{"s":"30 s","f":3345,"v":-509},
{"s":"30 s","f":3346,"v":-511},{"s":"30 s","f":3347,"v":-506},{"s":"30 s","f":3348,"v":-507},{"s":"30 s","f":3349,"v":-509},{"s":"30 s","f":3350,"v":-508},{"s":"30 s","f":3351,"v":-505},{"s":"30 s","f":3352,"v":-509},{"s":"30 s","f":3353,"v":-506},{"s":"30 s","f":3354,"v":-509},{"s":"30 s","f":3355,"v":-504},{"s":"30 s","f":3356,"v":-505},{"s":"30 s","f":3357,"v":-504},{"s":"30 s","f":3358,"v":-505},{"s":"30 s","f":3359,"v":-502},{"s":"30 s","f":3360,"v":-507},
{"s":"50 s","f":3260,"v":-568},{"s":"50 s","f":3261,"v":-566},{"s":"50 s","f":3262,"v":-568},{"s":"50 s","f":3263,"v":-566},{"s":"50 s","f":3264,"v":-568},{"s":"50 s","f":3265,"v":-570},{"s":"50 s","f":3266,"v":-568},{"s":"50 s","f":3267,"v":-567},{"s":"50 s","f":3268,"v":-570},{"s":"50 s","f":3269,"v":-569},{"s":"50 s","f":3270,"v":-571},
{"s":"50 s","f":3271,"v":-567},{"s":"50 s","f":3272,"v":-569},{"s":"50 s","f":3273,"v":-571},{"s":"50 s","f":3274,"v":-570},{"s":"50 s","f":3275,"v":-568},{"s":"50 s","f":3276,"v":-572},{"s":"50 s","f":3277,"v":-569},{"s":"50 s","f":3278,"v":-571},{"s":"50 s","f":3279,"v":-567},{"s":"50 s","f":3280,"v":-569},{"s":"50 s","f":3281,"v":-568},{"s":"50 s","f":3282,"v":-570},{"s":"50 s","f":3283,"v":-566},{"s":"50 s","f":3284,"v":-570},{"s":"50 s","f":3285,"v":-568},{"s":"50 s","f":3286,"v":-566},{"s":"50 s","f":3287,"v":-567},
{"s":"50 s","f":3288,"v":-564},{"s":"50 s","f":3289,"v":-566},{"s":"50 s","f":3290,"v":-561},{"s":"50 s","f":3291,"v":-560},{"s":"50 s","f":3292,"v":-559},{"s":"50 s","f":3293,"v":-553},{"s":"50 s","f":3294,"v":-555},{"s":"50 s","f":3295,"v":-549},{"s":"50 s","f":3296,"v":-547},{"s":"50 s","f":3297,"v":-546},{"s":"50 s","f":3298,"v":-538},{"s":"50 s","f":3299,"v":-535},{"s":"50 s","f":3300,"v":-533},{"s":"50 s","f":3301,"v":-530},{"s":"50 s","f":3302,"v":-527},{"s":"50 s","f":3303,"v":-531},{"s":"50 s","f":3304,"v":-531},{"s":"50 s","f":3305,"v":-535},{"s":"50 s","f":3306,"v":-533},{"s":"50 s","f":3307,"v":-537},
{"s":"50 s","f":3308,"v":-539},{"s":"50 s","f":3309,"v":-540},{"s":"50 s","f":3310,"v":-548},{"s":"50 s","f":3311,"v":-551},{"s":"50 s","f":3312,"v":-560},{"s":"50 s","f":3313,"v":-568},{"s":"50 s","f":3314,"v":-573},{"s":"50 s","f":3315,"v":-579},{"s":"50 s","f":3316,"v":-590},{"s":"50 s","f":3317,"v":-592},{"s":"50 s","f":3318,"v":-598},{"s":"50 s","f":3319,"v":-602},{"s":"50 s","f":3320,"v":-601},{"s":"50 s","f":3321,"v":-607},{"s":"50 s","f":3322,"v":-605},{"s":"50 s","f":3323,"v":-608},{"s":"50 s","f":3324,"v":-609},{"s":"50 s","f":3325,"v":-614},{"s":"50 s","f":3326,"v":-617},{"s":"50 s","f":3327,"v":-613},
{"s":"50 s","f":3328,"v":-611},{"s":"50 s","f":3329,"v":-606},{"s":"50 s","f":3330,"v":-605},{"s":"50 s","f":3331,"v":-599},{"s":"50 s","f":3332,"v":-593},{"s":"50 s","f":3333,"v":-591},{"s":"50 s","f":3334,"v":-585},{"s":"50 s","f":3335,"v":-585},{"s":"50 s","f":3336,"v":-578},{"s":"50 s","f":3337,"v":-578},{"s":"50 s","f":3338,"v":-578},{"s":"50 s","f":3339,"v":-574},{"s":"50 s","f":3340,"v":-572},{"s":"50 s","f":3341,"v":-574},{"s":"50 s","f":3342,"v":-573},{"s":"50 s","f":3343,"v":-570},{"s":"50 s","f":3344,"v":-574},{"s":"50 s","f":3345,"v":-570},
{"s":"50 s","f":3346,"v":-572},{"s":"50 s","f":3347,"v":-569},{"s":"50 s","f":3348,"v":-573},{"s":"50 s","f":3349,"v":-570},{"s":"50 s","f":3350,"v":-569},{"s":"50 s","f":3351,"v":-572},{"s":"50 s","f":3352,"v":-568},{"s":"50 s","f":3353,"v":-570},{"s":"50 s","f":3354,"v":-569},{"s":"50 s","f":3355,"v":-567},{"s":"50 s","f":3356,"v":-570},{"s":"50 s","f":3357,"v":-571},{"s":"50 s","f":3358,"v":-567},{"s":"50 s","f":3359,"v":-568},{"s":"50 s","f":3360,"v":-566}
]},
"spacing":47,
"vconcat":[
{"spacing":-19,"hconcat":[
{"width":296,"height":332,
"resolve":{"scale":{"y":"independent"}},
"layer":[
{"layer":[
{"data":{"name":"fitS"},"transform":[{"filter":"datum.t <= 14"}],"mark":{"type":"line","color":"black","strokeWidth":1.1,"interpolate":"monotone"},
"encoding":{"x":{"field":"t","type":"quantitative","scale":{"domain":[0,14],"range":[79,296],"nice":false,"zero":false},
"axis":{"values":[0,5,10],"format":"d","title":"Reaction time (s)","titleX":244,"titleY":67,"titleBaseline":"middle","labelPadding":10,"tickSize":5}},
"y":{"field":"v","type":"quantitative","scale":{"domain":[0,1],"nice":false,"zero":false},
"axis":{"orient":"left","offset":-79,"values":[0,0.2,0.4,0.6,0.8,1],"format":".1f","title":["Tyrosyl radical (spin/heme)","or normalized peroxidase  activity"],"titlePadding":17,"titleLineHeight":35,"labelPadding":10,"tickSize":5}}}},
{"data":{"values":[{}]},"mark":{"type":"rule","color":"#555","strokeWidth":1},"encoding":{"x":{"datum":0,"type":"quantitative"},"x2":{"datum":14},"y":{"datum":1,"type":"quantitative"}}},
{"data":{"values":[{}]},"mark":{"type":"rule","color":"#555","strokeWidth":1,"clip":false},"encoding":{"x":{"datum":12.9,"type":"quantitative"},"x2":{"datum":15.1},"y":{"datum":0.949,"type":"quantitative"},"y2":{"datum":1.051}}},
{"data":{"values":[{}]},"mark":{"type":"rule","color":"#555","strokeWidth":1,"clip":false},"encoding":{"x":{"datum":12.9,"type":"quantitative"},"x2":{"datum":15.1},"y":{"datum":-0.051,"type":"quantitative"},"y2":{"datum":0.051}}},
{"data":{"name":"fitD"},"transform":[{"filter":"datum.t <= 14"}],"mark":{"type":"line","color":"black","strokeWidth":1.1,"strokeDash":[15,6],"interpolate":"monotone"},"encoding":{"x":{"field":"t","type":"quantitative"},"y":{"field":"v","type":"quantitative"}}},
{"data":{"name":"circ"},"transform":[{"filter":"datum.t <= 14"}],"mark":{"type":"point","shape":"circle","filled":true,"fill":"white","stroke":"black","strokeWidth":1.2,"size":100,"opacity":1},"encoding":{"x":{"field":"t","type":"quantitative"},"y":{"field":"v","type":"quantitative"}}},
{"data":{"name":"diam"},"transform":[{"filter":"datum.t <= 14"}],"mark":{"type":"point","shape":"diamond","filled":true,"color":"black","size":140,"opacity":1},"encoding":{"x":{"field":"t","type":"quantitative"},"y":{"field":"v","type":"quantitative"}}}
]},
{"data":{"name":"a428"},"transform":[{"filter":"datum.t <= 14"}],"mark":{"type":"line","color":"black","strokeWidth":3,"strokeDash":[17,5,3,5],"interpolate":"monotone"},
"encoding":{"x":{"field":"t","type":"quantitative"},"y":{"field":"r","type":"quantitative","scale":{"domain":[0.519,1.0],"nice":false,"zero":false},"axis":null}}}
]},
{"width":80,"height":332,
"resolve":{"scale":{"y":"independent"}},
"layer":[
{"layer":[
{"data":{"name":"fitS"},"transform":[{"filter":"datum.t >= 16"}],"mark":{"type":"line","color":"black","strokeWidth":1.1},
"encoding":{"x":{"field":"t","type":"quantitative","scale":{"domain":[16.5,52],"nice":false,"zero":false},"axis":{"values":[20,40],"format":"d","title":null,"labelPadding":10,"tickSize":5}},
"y":{"field":"v","type":"quantitative","scale":{"domain":[0,1],"nice":false,"zero":false},"axis":null}}},
{"data":{"values":[{}]},"mark":{"type":"rule","color":"#555","strokeWidth":1},"encoding":{"x":{"datum":16.5,"type":"quantitative"},"x2":{"datum":52},"y":{"datum":1,"type":"quantitative","axis":null}}},
{"data":{"values":[{}]},"mark":{"type":"rule","color":"#555","strokeWidth":1,"clip":false},"encoding":{"x":{"datum":8.0,"type":"quantitative"},"x2":{"datum":23.2},"y":{"datum":0.949,"type":"quantitative","axis":null},"y2":{"datum":1.051}}},
{"data":{"values":[{}]},"mark":{"type":"rule","color":"#555","strokeWidth":1,"clip":false},"encoding":{"x":{"datum":8.0,"type":"quantitative"},"x2":{"datum":23.2},"y":{"datum":-0.051,"type":"quantitative","axis":null},"y2":{"datum":0.051}}},
{"data":{"name":"fitD"},"transform":[{"filter":"datum.t >= 16"}],"mark":{"type":"line","color":"black","strokeWidth":1.1,"strokeDash":[15,6]},"encoding":{"x":{"field":"t","type":"quantitative"},"y":{"field":"v","type":"quantitative","axis":null}}},
{"data":{"name":"circ"},"transform":[{"filter":"datum.t >= 16"}],"mark":{"type":"point","shape":"circle","filled":true,"fill":"white","stroke":"black","strokeWidth":1.2,"size":100,"opacity":1},"encoding":{"x":{"field":"t","type":"quantitative"},"y":{"field":"v","type":"quantitative","axis":null}}},
{"data":{"name":"diam"},"transform":[{"filter":"datum.t >= 16"}],"mark":{"type":"point","shape":"diamond","filled":true,"color":"black","size":140,"opacity":1},"encoding":{"x":{"field":"t","type":"quantitative"},"y":{"field":"v","type":"quantitative","axis":null}}},
{"data":{"values":[{}]},"mark":{"type":"text","text":"A","fontSize":23,"fontWeight":"bold","align":"center","baseline":"middle"},"encoding":{"x":{"datum":37,"type":"quantitative"},"y":{"datum":0.89,"type":"quantitative","axis":null}}}
]},
{"data":{"name":"a428"},"transform":[{"filter":"datum.t >= 16"}],"mark":{"type":"line","color":"black","strokeWidth":3,"strokeDash":[17,5,3,5],"interpolate":"monotone"},
"encoding":{"x":{"field":"t","type":"quantitative"},"y":{"field":"r","type":"quantitative","scale":{"domain":[0.519,1.0],"nice":false,"zero":false},
"axis":{"orient":"right","values":[0.6,0.7,0.8,0.9,1.0],"format":".1f","title":"A428nm","titleFontSize":23,"titleAngle":270,"titleX":61,"titleY":166,"titleBaseline":"middle","titleAlign":"center","labelPadding":11,"tickSize":5}}}}
]}
]},
{"width":490,"height":753,
"layer":[
{"data":{"name":"spectra"},"mark":{"type":"line","color":"#111","strokeWidth":1.1},
"encoding":{"x":{"field":"f","type":"quantitative","scale":{"domain":[3260,3360],"nice":false,"zero":false},
"axis":{"values":[3260,3280,3300,3320,3340,3360],"format":"d","title":"Magnetic Field (gauss)","titleY":77,"titleBaseline":"middle","tickSize":6,"labelPadding":13,"domainColor":"#333","tickColor":"#333"}},
"y":{"field":"v","type":"quantitative","scale":{"domain":[-676,77],"nice":false,"zero":false},"axis":null},
"detail":{"field":"s","type":"nominal"}}},
{"data":{"values":[{}]},"mark":{"type":"rule","color":"#111","strokeWidth":1.3},"encoding":{"x":{"datum":3301.8,"type":"quantitative"},"y":{"datum":77,"type":"quantitative","axis":null},"y2":{"datum":-572}}},
{"data":{"values":[{}]},"mark":{"type":"rule","color":"#111","strokeWidth":1.3},"encoding":{"x":{"datum":3326.6,"type":"quantitative"},"y":{"datum":-30,"type":"quantitative","axis":null},"y2":{"datum":-676}}},
{"data":{"name":"labels"},"mark":{"type":"text","align":"left","baseline":"middle","fontSize":22},"encoding":{"x":{"field":"f","type":"quantitative"},"y":{"field":"v","type":"quantitative","axis":null},"text":{"field":"lab"}}},
{"data":{"values":[{}]},"mark":{"type":"text","text":"B","fontSize":25,"align":"center","baseline":"middle"},"encoding":{"x":{"datum":3336.8,"type":"quantitative"},"y":{"datum":67,"type":"quantitative","axis":null}}}
]}
]
}
